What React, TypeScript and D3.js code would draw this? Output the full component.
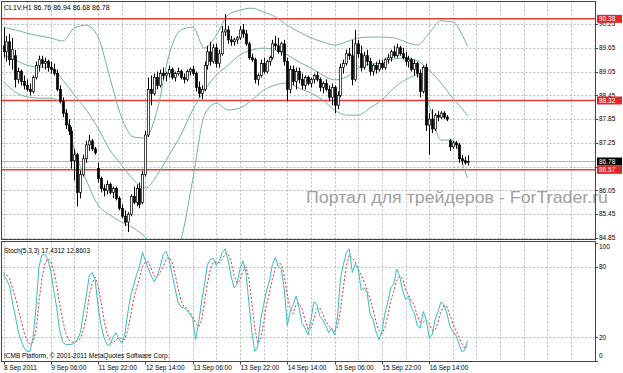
import React from 'react';
import * as d3 from 'd3';

const W = 623, H = 373;

const opens = [89.70,89.55,89.80,89.35,89.45,88.85,89.05,88.80,88.70,88.60,88.55,88.90,89.20,89.35,89.25,89.30,89.15,89.10,89.00,88.60,88.30,88.00,87.70,87.55,86.80,86.95,86.00,86.45,86.85,87.20,87.30,87.10,86.60,86.35,86.10,86.05,86.20,86.00,86.10,85.85,85.60,85.40,85.25,85.45,85.90,85.75,86.10,85.75,86.45,87.45,88.60,88.50,88.90,88.70,89.00,88.95,89.00,89.10,88.90,89.00,89.05,88.90,88.85,89.05,89.10,89.00,88.65,88.50,88.60,89.20,89.55,89.30,89.65,89.25,89.50,90.05,90.10,89.85,89.80,89.85,89.90,90.10,90.00,89.75,89.40,89.35,88.85,88.95,89.25,89.05,89.30,89.40,89.75,89.70,89.55,89.75,89.30,88.60,89.10,88.80,89.05,88.85,88.70,88.90,88.75,88.85,88.95,88.85,88.65,88.75,88.60,88.40,88.65,88.20,88.45,89.15,89.25,89.50,89.45,88.85,89.75,89.50,89.15,89.45,89.30,89.05,89.20,89.10,89.25,89.15,89.35,89.40,89.55,89.45,89.65,89.50,89.40,89.30,89.35,89.10,89.25,89.00,88.55,89.15,87.70,87.85,87.60,87.95,87.90,88.00,87.90,87.30,87.15,87.25,87.20,86.85,86.80,86.76];
const highs = [90.15,89.95,90.00,89.90,89.60,89.15,89.10,88.95,88.85,88.75,88.95,89.30,89.45,89.45,89.40,89.35,89.30,89.25,89.10,88.70,88.40,88.10,87.85,87.65,87.10,87.00,86.55,86.95,87.30,87.45,87.35,87.15,86.75,86.40,86.20,86.30,86.25,86.15,86.15,85.90,85.70,85.55,85.50,85.95,86.15,86.20,86.25,86.55,87.55,88.90,88.95,89.00,89.05,89.10,89.15,89.05,89.20,89.15,89.05,89.15,89.10,89.00,89.10,89.15,89.20,89.05,88.80,88.70,89.30,89.70,89.80,89.75,89.75,89.60,90.20,90.50,90.20,89.95,89.90,89.95,90.20,90.25,90.10,89.80,89.50,89.40,89.00,89.35,89.40,89.35,89.45,89.85,89.95,89.90,89.80,89.85,89.40,89.20,89.20,89.15,89.15,89.00,88.95,88.95,88.90,89.00,89.05,88.90,88.80,88.85,88.70,88.75,88.70,88.55,89.25,89.35,89.60,89.65,89.85,90.10,89.85,89.70,89.55,89.60,89.40,89.25,89.30,89.35,89.35,89.40,89.50,89.60,89.70,89.75,89.70,89.65,89.55,89.45,89.40,89.35,89.30,89.10,89.20,89.25,88.00,88.10,88.00,88.05,88.05,88.05,87.95,87.35,87.30,87.30,87.25,86.95,86.90,86.94];
const lows = [89.40,89.30,89.20,89.10,88.65,88.75,88.70,88.60,88.55,88.45,88.50,88.85,89.05,89.15,89.10,89.05,89.00,88.95,88.55,88.25,87.90,87.60,87.45,86.60,86.30,85.65,85.85,86.40,86.75,87.05,87.05,86.95,86.25,86.00,85.90,85.95,85.95,85.85,85.80,85.55,85.35,85.15,85.00,85.40,85.70,85.65,85.60,85.70,86.40,87.40,88.20,88.45,88.60,88.65,88.85,88.80,88.90,88.85,88.80,88.95,88.85,88.75,88.80,88.95,88.95,88.55,88.40,88.35,88.55,89.10,89.20,89.25,89.15,89.15,89.45,89.95,89.75,89.70,89.70,89.75,89.85,89.90,89.70,89.35,89.30,88.75,88.70,88.90,89.00,89.00,89.20,89.35,89.60,89.50,89.45,89.20,88.30,88.50,88.70,88.60,88.75,88.60,88.60,88.70,88.65,88.75,88.80,88.55,88.50,88.55,88.30,88.20,88.00,88.10,88.40,89.00,89.20,89.35,88.70,88.80,89.40,89.05,89.10,89.20,88.95,88.95,89.00,89.05,89.10,89.10,89.25,89.30,89.40,89.40,89.45,89.35,89.20,89.15,89.05,88.95,88.90,88.40,88.50,87.55,86.95,87.50,87.55,87.80,87.85,87.85,87.80,87.05,87.10,87.10,86.75,86.70,86.70,86.68];
const closes = [89.55,89.80,89.35,89.60,88.85,89.05,88.80,88.70,88.60,88.55,88.90,89.20,89.35,89.25,89.30,89.15,89.10,89.00,88.60,88.30,88.00,87.70,87.55,86.80,86.95,86.00,86.45,86.85,87.20,87.30,87.10,87.00,86.35,86.10,86.05,86.20,86.00,86.10,85.85,85.60,85.40,85.25,85.45,85.90,85.75,86.10,85.70,86.45,87.45,88.60,88.50,88.90,88.70,89.00,88.95,89.00,89.10,88.90,89.00,89.05,88.90,88.85,89.05,89.10,89.00,88.65,88.50,88.60,89.20,89.55,89.30,89.65,89.25,89.50,90.05,90.10,89.85,89.80,89.85,89.90,90.10,90.00,89.75,89.40,89.35,88.85,88.95,89.25,89.05,89.30,89.40,89.75,89.70,89.55,89.75,89.30,88.60,89.10,88.80,89.05,88.85,88.70,88.90,88.75,88.85,88.95,88.85,88.65,88.75,88.60,88.40,88.65,88.20,88.45,89.15,89.25,89.50,89.45,88.85,89.75,89.50,89.15,89.45,89.30,89.05,89.20,89.10,89.25,89.15,89.35,89.40,89.55,89.45,89.65,89.50,89.40,89.30,89.35,89.10,89.25,89.00,88.55,89.15,87.70,87.85,87.60,87.95,87.90,88.00,87.90,87.85,87.15,87.25,87.20,86.85,86.80,86.75,86.78];

// Bollinger bands read at every 4th bar (+ last bar)
const bandIdx = [0,4,8,12,16,20,24,28,32,36,40,44,48,52,56,60,64,68,72,76,80,84,88,92,96,100,104,108,112,116,120,124,128,132,136,140,144,148,152,156,157];
const bandUpper = [90.17,90.10,90.02,89.95,89.90,89.82,90.15,90.22,89.92,88.89,87.88,87.40,87.37,88.08,89.47,90.10,90.17,89.64,89.97,90.48,90.60,90.65,90.55,90.43,90.22,90.05,89.90,89.80,89.72,89.80,89.90,89.92,89.92,89.90,89.80,89.72,90.02,90.33,90.30,89.85,89.69];
const bandMiddle = [89.47,89.34,89.21,89.16,89.16,88.84,88.46,88.08,87.62,87.07,86.69,86.31,86.11,86.44,86.94,87.45,88.08,88.58,88.96,89.21,89.47,89.59,89.64,89.59,89.47,89.29,89.14,88.96,88.84,88.91,89.14,89.24,89.26,89.37,89.39,89.32,89.09,88.76,88.38,88.03,87.93];
const bandLower = [88.79,88.53,88.41,88.38,88.38,88.20,87.07,86.31,85.68,85.43,85.25,85.10,84.87,84.54,84.29,84.80,86.31,87.95,88.25,88.08,88.13,88.33,88.58,88.71,88.76,88.63,88.51,88.33,88.08,87.95,87.95,88.13,88.33,88.63,88.84,88.96,88.20,87.32,87.32,86.56,86.36];

const stochK = [73,69,64,50,38,25,17,11,8,8,20,45,80,90,90,86,76,60,45,26,16,14,14,14,15,18,24,40,55,72,75,69,46,30,20,14,13,20,24,19,15,22,40,55,64,73,80,92,85,78,72,67,72,80,90,93,86,74,62,50,46,45,43,40,36,18,32,50,65,82,86,87,81,85,92,95,85,72,62,65,78,85,75,50,25,8,12,35,48,60,68,82,88,80,78,60,30,42,48,55,45,32,28,22,35,50,48,38,35,30,24,28,22,38,70,82,92,95,75,82,78,60,62,58,40,35,25,18,25,40,50,62,65,78,72,60,52,55,45,40,30,28,42,35,20,22,35,42,50,48,40,30,25,22,15,8,9,17.43];
const stochD = [75,73,70,62,54,44,34,24,17,14,16,26,50,70,82,87,84,77,64,48,35,24,18,16,16,17,19,26,37,55,66,71,64,50,35,24,17,15,18,20,19,18,26,38,52,62,70,80,84,84,78,72,72,75,80,86,88,84,74,62,52,46,45,41,38,32,29,34,50,66,78,84,84,83,86,91,91,84,73,66,68,76,80,70,50,28,15,18,32,48,58,70,79,83,82,72,56,44,40,48,49,44,35,27,28,36,44,45,40,34,30,27,25,29,43,63,81,90,87,84,78,73,67,60,53,44,33,26,23,28,38,51,59,68,72,70,61,56,51,47,38,33,33,35,32,26,26,33,42,47,46,39,32,26,21,15,11,12.86];

const priceTicks = [90.25,89.65,89.05,88.45,87.85,87.25,86.65,86.05,85.45,84.85];
const levelLines = [90.38,88.32,86.57];
const bidPrice = 86.78;
const dateLabels = ['8 Sep 2011','9 Sep 06:00','11 Sep 22:00','12 Sep 14:00','13 Sep 06:00','13 Sep 22:00','14 Sep 14:00','15 Sep 06:00','15 Sep 22:00','16 Sep 14:00'];
const dateIdx = [0,16,32,48,64,80,96,112,128,144];
const stochTicks = [100,80,20,0];

const FONT = '"Liberation Sans", Arial, sans-serif';

export default function App() {
  const L = 1.5, R = 595.5, T = 1.5, MB = 239.5, ST = 241.5, SB = 361.5;
  const step = 2.956;
  const x = d3.scaleLinear().domain([0, 1]).range([3.5, 3.5 + step]);
  const y = d3.scaleLinear().domain([84.85, 90.25]).range([238, 24]);
  const ys = d3.scaleLinear().domain([0, 100]).range([361, 243]);

  const gridX: number[] = [];
  for (let k = 0; ; k++) { const gx = x(8 * k); if (gx > R) break; gridX.push(gx); }

  const bandLine = d3.line<number>().x((_, k) => x(bandIdx[k])).y(d => y(d)).curve(d3.curveMonotoneX);
  const stLine = d3.line<number>().x((_, k) => x(k)).y(d => ys(d)).curve(d3.curveLinear);

  const snap = (v: number) => Math.round(v) + 0.5;
  // labels fully hidden by the price boxes in the reference are not drawn
  const boxPrices = [...levelLines, bidPrice];
  const hidden = (p: number) => boxPrices.filter(b => Math.abs(y(b) - y(p)) < 6).length >= 2;

  return (
    <svg width={W} height={H} style={{ position: 'absolute', left: 0, top: 0, background: '#fff' }} fontFamily={FONT}>
      <defs>
        <clipPath id="mainClip"><rect x={L} y={T} width={R - L} height={MB - T} /></clipPath>
        <clipPath id="stClip"><rect x={L} y={ST} width={R - L} height={SB - ST} /></clipPath>
      </defs>
      <rect x={0} y={0} width={W} height={H} fill="#fff" />
      <g stroke="#b8b8b8" strokeDasharray="2,2" strokeWidth={1}>
        {priceTicks.map(p => <line key={'h' + p} x1={L} x2={R} y1={snap(y(p))} y2={snap(y(p))} />)}
        {gridX.map(g => <line key={'v' + g} x1={snap(g)} x2={snap(g)} y1={T} y2={MB} />)}
        {[80, 20].map(v => <line key={'s' + v} x1={L} x2={R} y1={snap(ys(v))} y2={snap(ys(v))} />)}
        {gridX.map(g => <line key={'sv' + g} x1={snap(g)} x2={snap(g)} y1={ST} y2={SB} />)}
      </g>
      <text x={306} y={203} fontSize={16} fill="#a0a0a0" textLength={302} lengthAdjust="spacingAndGlyphs">Портал для трейдеров - ForTrader.ru</text>
      <g clipPath="url(#mainClip)">
        <line x1={L} x2={R} y1={y(bidPrice)} y2={y(bidPrice)} stroke="#a9b8c8" strokeWidth={1} />
        {levelLines.map(p => <line key={'lv' + p} x1={L} x2={R} y1={y(p)} y2={y(p)} stroke="#e03c3c" strokeWidth={1.5} />)}
        {[bandUpper, bandMiddle, bandLower].map((b, k) => <path key={'b' + k} d={bandLine(b) || ''} fill="none" stroke="#72b496" strokeWidth={1} />)}
        {closes.map((c, i) => {
          const o = opens[i];
          const cx = snap(x(i));
          const bull = c >= o;
          const top = y(Math.max(o, c)), bot = y(Math.min(o, c));
          return (
            <g key={'c' + i}>
              <line x1={cx} x2={cx} y1={y(highs[i])} y2={y(lows[i])} stroke="#000" strokeWidth={1} />
              <rect x={cx - 1} y={top} width={2} height={Math.max(1, bot - top)} fill={bull ? '#fff' : '#000'} stroke="#000" strokeWidth={0.7} />
            </g>
          );
        })}
      </g>
      <g clipPath="url(#stClip)">
        <path d={stLine(stochD) || ''} fill="none" stroke="#e03030" strokeWidth={1} strokeDasharray="2,2" />
        <path d={stLine(stochK) || ''} fill="none" stroke="#3cbcbc" strokeWidth={1} />
      </g>
      <g fill="none" stroke="#444" strokeWidth={1}>
        <rect x={L} y={T} width={R - L} height={MB - T} />
        <rect x={L} y={ST} width={R - L} height={SB - ST} />
      </g>
      <text x={4} y={9.5} fontSize={7} fill="#000">CL1V,H1  86.76 86.94 86.68 86.78</text>
      <text x={4} y={252.5} fontSize={6.5} fill="#000">Stoch(5,3,3) 17.4312 12.8603</text>
      <text x={4} y={358} fontSize={6.5} fill="#000">ICMB Platform, © 2001-2011 MetaQuotes Software Corp.</text>
      {priceTicks.map(p => (
        <g key={'pt' + p}>
          <line x1={R} x2={R + 2.5} y1={snap(y(p))} y2={snap(y(p))} stroke="#444" />
          {!hidden(p) && <text x={599} y={y(p)} dy="0.35em" fontSize={6.5} fill="#000">{p.toFixed(2)}</text>}
        </g>
      ))}
      {levelLines.map(p => (
        <g key={'lb' + p}>
          <rect x={597} y={y(p) - 4} width={25} height={8} fill="#e02828" />
          <text x={599} y={y(p)} dy="0.35em" fontSize={6.5} fill="#fff">{p.toFixed(2)}</text>
        </g>
      ))}
      <g>
        <rect x={597} y={y(bidPrice) - 4} width={25} height={8} fill="#000" />
        <text x={599} y={y(bidPrice)} dy="0.35em" fontSize={6.5} fill="#fff">{bidPrice.toFixed(2)}</text>
      </g>
      {stochTicks.map(v => {
        const ty = Math.min(Math.max(ys(v), 247), 356);
        return (
          <g key={'st' + v}>
            <line x1={R} x2={R + 2.5} y1={snap(ys(v))} y2={snap(ys(v))} stroke="#444" />
            <text x={599} y={ty} dy="0.35em" fontSize={6.5} fill="#000">{v}</text>
          </g>
        );
      })}
      {dateLabels.map((t, k) => (
        <g key={'d' + k}>
          <line x1={snap(x(dateIdx[k]))} x2={snap(x(dateIdx[k]))} y1={SB} y2={SB + 3} stroke="#444" />
          <text x={x(dateIdx[k]) + 0.5} y={370} fontSize={6.5} fill="#000">{t}</text>
        </g>
      ))}
    </svg>
  );
}
